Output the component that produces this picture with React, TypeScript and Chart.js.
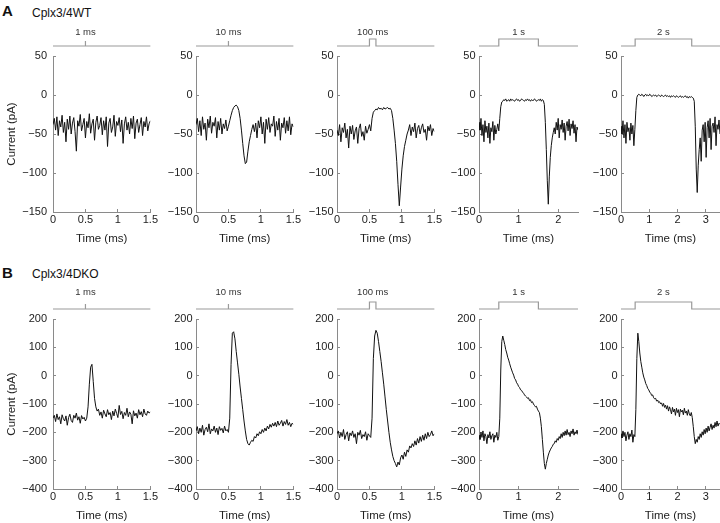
import React, { useEffect, useRef } from "react";
import { Chart, registerables } from "chart.js";
Chart.register(...registerables);

const FONT = '"Liberation Sans", Arial, Helvetica, sans-serif';
const AXIS = "#8a8a8a";
const TXT = "#222";

// ---- column settings (same for both rows) ----
const xMaxes = [1.5, 1.5, 1.5, 2.5, 3.5];
const xSteps = [0.5, 0.5, 0.5, 1, 1];
const sampleDt = [0.02, 0.02, 0.02, 0.025, 0.035];
const stimLabels = ["1 ms", "10 ms", "100 ms", "1 s", "2 s"];
const stimLabelAt = [0.5, 0.5, 0.55, 1, 1.5];
const stimX = [
  [0, 0.5, 0.5, 0.5, 1.5],
  [0, 0.5, 0.5, 0.5, 1.5],
  [0, 0.5, 0.5, 0.6, 0.6, 1.5],
  [0, 0.5, 0.5, 1.5, 1.5, 2.5],
  [0, 0.5, 0.5, 2.5, 2.5, 3.5],
];
const stimLevel = [
  [0, 0, 0.7, 0, 0],
  [0, 0, 0.7, 0, 0],
  [0, 0, 1, 1, 0, 0],
  [0, 0, 1, 1, 0, 0],
  [0, 0, 1, 1, 0, 0],
];

// ---- row A: Cplx3/4WT (pA) ----
const wt1ms = [
  -38, -30, -45, -28, -52, -33, -41, -26, -48, -35,
  -60, -31, -44, -27, -50, -36, -29, -47, -72, -33,
  -40, -25, -46, -38, -30, -55, -34, -42, -24, -49,
  -37, -31, -58, -35, -27, -44, -39, -29, -51, -33,
  -45, -28, -66, -36, -30, -48, -41, -26, -53, -34,
  -39, -29, -47, -32, -62, -37, -28, -45, -35, -50,
  -30, -43, -27, -56, -36, -31, -48, -38, -29, -52,
  -34, -41, -28, -46, -37, -33,
];
const wt10ms = [
  -38, -30, -47, -33, -52, -28, -44, -36, -58, -31,
  -42, -27, -49, -35, -40, -29, -55, -34, -45, -30,
  -50, -37, -43, -32, -46,
  -40, -33, -26, -20, -16, -14, -13, -15, -20, -30,
  -45, -62, -78, -88, -86, -72, -60, -52, -44, -38,
  -47, -36, -55, -33, -42, -28, -50, -35, -62, -31,
  -44, -29, -48, -37, -40, -27, -53, -34, -45, -30,
  -58, -36, -42, -29, -49, -33, -46, -28, -51, -37,
  -41,
];
const wt100ms = [
  -45, -52, -38, -60, -42, -48, -36, -55, -44, -68,
  -40, -50, -39, -57, -46, -41, -62, -43, -37, -53,
  -47, -58, -40, -49, -44, -38, -46,
  -30, -22, -20, -18, -19, -16, -18, -17, -19, -16,
  -18, -17, -16, -18, -17, -20, -30, -45, -62, -85,
  -115, -142, -118, -95, -78, -66, -58, -50,
  -45, -38, -52, -41, -47, -36, -55, -43, -39, -50,
  -42, -37, -48, -44, -58, -40, -46, -38, -52, -43,
  -47,
];
const wt1s = [
  -35, -45, -30, -52, -38, -60, -33, -48, -40, -55,
  -36, -62, -42, -47, -34, -58, -39, -50, -44, -37,
  -46,
  -30, -15, -9,
  -8, -6, -7, -5, -8, -7, -6, -8, -5, -7,
  -6, -7, -8, -6, -5, -7, -6, -8, -7, -5,
  -6, -7, -8, -6, -7, -5, -7, -6, -8, -6,
  -7, -7, -5, -6, -8, -7, -6, -7, -5, -8,
  -6, -7,
  -12, -35, -70, -110, -140, -105, -80, -65, -55, -48,
  -42, -50, -35, -45, -30, -55, -38, -44, -32, -48,
  -36, -58, -40, -34, -46, -31, -52, -37, -43, -33,
  -49, -38, -60, -41, -45,
];
const wt2s = [
  -40, -50, -33, -55, -38, -62, -35, -47, -42, -58,
  -36, -50, -39, -65, -44,
  -20, -3, 0,
  1, 0, -1, 1, 0, -2, 0, 1, -1, 0,
  -1, 1, 0, -2, -1, 0, -1, 0, -2, -1,
  0, -1, -2, 0, -1, -2, -1, 0, -2, -1,
  -2, -1, -3, -1, -2, -1, -2, -3, -1, -2,
  -3, -2, -1, -3, -2, -3, -2, -1, -3, -2,
  -4, -2, -3, -2, -3, -4,
  -8, -40, -95, -125, -90, -70, -55,
  -85, -45, -38, -60, -35, -80, -42, -33, -55, -30,
  -70, -40, -36, -48, -28, -65, -38, -44, -32, -50,
];

// ---- row B: Cplx3/4DKO (pA) ----
const dko1ms = [
  -150, -140, -162, -135, -155, -145, -170, -138, -152, -160,
  -142, -175, -148, -136, -158, -165, -140, -150, -132, -157,
  -145, -168, -141, -153, -147, -160, -150,
  -110, -30, 30, 40, -20, -80, -110, -125,
  -118, -140, -128, -150, -122, -135, -145, -120, -138, -130,
  -155, -125, -142, -118, -133, -148, -105, -137, -126, -152,
  -130, -140, -115, -145, -128, -136, -170, -124, -142, -132,
  -150, -120, -138, -127, -145, -118, -135, -140, -125, -132,
  -128,
];
const dko10ms = [
  -195, -180, -205, -185, -200, -175, -210, -190, -182, -198,
  -170, -205, -188, -195, -178, -200, -185, -208, -180, -193,
  -186, -202, -178, -195, -190, -200,
  -150, 40, 150, 155, 130, 85, 45, 5, -40, -80,
  -120, -160, -195, -225, -240, -245, -235, -228,
  -232, -215, -220, -205, -212, -198, -205, -190, -200, -185,
  -195, -178, -188, -172, -182, -168, -178, -165, -180, -160,
  -175, -168, -158, -178, -162, -172, -155, -175, -165, -180,
  -168, -172,
];
const dko100ms = [
  -205, -195, -220, -200, -215, -190, -225, -208, -198, -230,
  -202, -212, -195, -218, -205, -240, -200, -210, -193, -222,
  -208, -215, -198, -228, -205, -212, -218,
  -150, 60, 140, 160, 150, 120, 85, 50, 10, -30,
  -75, -120, -160, -200, -235, -262, -285, -300, -310, -322,
  -305, -315, -290,
  -280, -295, -270, -285, -262, -270, -248, -255, -240, -250,
  -230, -245, -222, -238, -215, -232, -210, -228, -205, -222,
  -200, -215, -208, -195, -212, -205,
];
const dko1s = [
  -210, -225, -200, -218, -195, -230, -205, -215, -240, -208,
  -220, -198, -225, -212, -205, -235, -210, -218, -200, -228,
  -215,
  -150, 20, 120, 140, 125, 110, 92, 80, 65, 55,
  42, 30, 20, 10, 2, -10, -15, -25, -30, -38,
  -42, -50, -52, -58, -62, -68, -72, -75, -80, -78,
  -88, -85, -95, -92, -100, -105, -110, -108, -118, -125,
  -130, -150, -180, -225, -270, -310, -330, -310, -295, -280,
  -270, -262, -255, -250, -242, -240, -230, -235, -222, -228,
  -215, -222, -205, -218, -200, -212, -195, -210, -190, -208,
  -200, -215, -195, -205, -188, -210, -198, -205, -192, -208,
];
const dko2s = [
  -205, -220, -195, -215, -200, -230, -210, -198, -225, -205,
  -215, -192, -235, -208, -215,
  -120, 60, 150, 120, 80, 50, 30, 10, -5, -15,
  -28, -35, -45, -50, -58, -62, -70, -68, -78, -82,
  -80, -90, -86, -95, -92, -100, -96, -108, -98, -112,
  -104, -118, -106, -125, -110, -120, -135, -112, -128, -118,
  -140, -115, -130, -120, -145, -118, -128, -122, -138, -115,
  -132, -125, -140, -120, -135, -142, -130, -148, -180, -215,
  -240, -225, -235, -215, -225, -205,
  -218, -198, -210, -190, -205, -185, -200, -178, -195, -182,
  -170, -190, -175, -185, -165, -180, -160, -178, -168, -172,
];

const rowA = [wt1ms, wt10ms, wt100ms, wt1s, wt2s];
const rowB = [dko1ms, dko10ms, dko100ms, dko1s, dko2s];

// ---- layout ----
const plotLefts = [53, 196, 337, 479, 621];
const PLOT_W = 99;
const X_AXIS_H = 38;
const RIGHT_PAD = 10;
const STIM_BASE = 10; // px above plot top
const STIM_PX = 7; // px per stimulus unit

const stimLabelPlugin = {
  id: "stimLabel",
  afterDraw(chart: any, _args: any, opts: any) {
    const { ctx, chartArea, scales } = chart;
    ctx.save();
    ctx.font = `9.5px ${FONT}`;
    ctx.fillStyle = "#333";
    ctx.textAlign = "center";
    ctx.textBaseline = "middle";
    ctx.fillText(opts.text, scales.x.getPixelForValue(opts.at), chartArea.top - opts.offset);
    ctx.restore();
  },
};

type PanelProps = {
  col: number;
  values: number[];
  plotTop: number;
  plotH: number;
  padTop: number;
  yMin: number;
  yMax: number;
  yStep: number;
  labelOffset: number;
};

function Panel(p: PanelProps) {
  const ref = useRef<HTMLCanvasElement>(null);
  const first = p.col === 0;
  const axisW = first ? 52 : 45;
  const w = axisW + PLOT_W + RIGHT_PAD;
  const h = p.padTop + p.plotH + X_AXIS_H;
  const left = plotLefts[p.col] - axisW;
  const top = p.plotTop - p.padTop;

  useEffect(() => {
    const dt = sampleDt[p.col];
    const trace = p.values.map((v, i) => ({ x: +(i * dt).toFixed(4), y: v }));
    const stim = stimX[p.col].map((x, i) => ({ x, y: stimLevel[p.col][i] }));
    const tickFont = { family: FONT, size: 11 };
    const titleFont = { family: FONT, size: 11.5 };
    const chart = new Chart(ref.current as HTMLCanvasElement, {
      type: "line",
      data: {
        datasets: [
          {
            data: trace,
            borderColor: "#111",
            borderWidth: 1,
            pointRadius: 0,
            tension: 0,
            yAxisID: "y",
          },
          {
            data: stim,
            borderColor: "#9a9a9a",
            borderWidth: 1.2,
            pointRadius: 0,
            tension: 0,
            yAxisID: "ys",
            clip: false as any,
          },
        ],
      },
      options: {
        responsive: false,
        animation: false,
        events: [],
        layout: { padding: { top: p.padTop, right: RIGHT_PAD, left: 0, bottom: 0 } },
        plugins: {
          legend: { display: false },
          tooltip: { enabled: false },
          stimLabel: { text: stimLabels[p.col], at: stimLabelAt[p.col], offset: p.labelOffset },
        } as any,
        scales: {
          x: {
            type: "linear",
            min: 0,
            max: xMaxes[p.col],
            border: { display: true, color: AXIS, width: 1 },
            grid: { drawOnChartArea: false, drawTicks: true, tickLength: -3, color: AXIS },
            ticks: {
              stepSize: xSteps[p.col],
              includeBounds: false,
              padding: 4,
              font: tickFont,
              color: TXT,
              maxRotation: 0,
              autoSkip: false,
              callback: (v: any) => String(v),
            },
            title: { display: true, text: "Time (ms)", font: titleFont, color: TXT, padding: 4 },
            afterFit: (s: any) => {
              s.height = X_AXIS_H;
            },
          },
          y: {
            type: "linear",
            min: p.yMin,
            max: p.yMax,
            border: { display: true, color: AXIS, width: 1 },
            grid: { drawOnChartArea: false, drawTicks: true, tickLength: -3, color: AXIS },
            ticks: {
              stepSize: p.yStep,
              padding: first ? 9 : 6.5,
              font: tickFont,
              color: TXT,
              callback: (v: any) => String(v).replace("-", "\u2212"),
            },
            title: { display: first, text: "Current (pA)", font: titleFont, color: TXT, padding: 4 },
            afterFit: (s: any) => {
              s.width = axisW;
            },
          },
          ys: {
            type: "linear",
            display: false,
            min: -(p.plotH + STIM_BASE) / STIM_PX,
            max: -STIM_BASE / STIM_PX,
          },
        },
      } as any,
      plugins: [stimLabelPlugin as any],
    });
    return () => chart.destroy();
  }, []);

  return (
    <canvas
      ref={ref}
      width={w}
      height={h}
      style={{ position: "absolute", left, top, width: w, height: h }}
    />
  );
}

export default function App() {
  return (
    <div
      style={{
        position: "absolute",
        left: 0,
        top: 0,
        width: 720,
        height: 523,
        overflow: "hidden",
        background: "#fff",
        fontFamily: FONT,
        color: "#111",
      }}
    >
      <div style={{ position: "absolute", left: 2, top: 3, fontSize: 15, fontWeight: "bold", lineHeight: "15px" }}>A</div>
      <div style={{ position: "absolute", left: 32, top: 7, fontSize: 12, lineHeight: "12px" }}>Cplx3/4WT</div>
      <div style={{ position: "absolute", left: 2, top: 265, fontSize: 15, fontWeight: "bold", lineHeight: "15px" }}>B</div>
      <div style={{ position: "absolute", left: 32, top: 268, fontSize: 12, lineHeight: "12px" }}>Cplx3/4DKO</div>
      {rowA.map((vals, c) => (
        <Panel
          key={"a" + c}
          col={c}
          values={vals}
          plotTop={56}
          plotH={156}
          padTop={34}
          yMin={-150}
          yMax={50}
          yStep={50}
          labelOffset={24}
        />
      ))}
      {rowB.map((vals, c) => (
        <Panel
          key={"b" + c}
          col={c}
          values={vals}
          plotTop={319}
          plotH={170}
          padTop={36}
          yMin={-400}
          yMax={200}
          yStep={100}
          labelOffset={27}
        />
      ))}
    </div>
  );
}
